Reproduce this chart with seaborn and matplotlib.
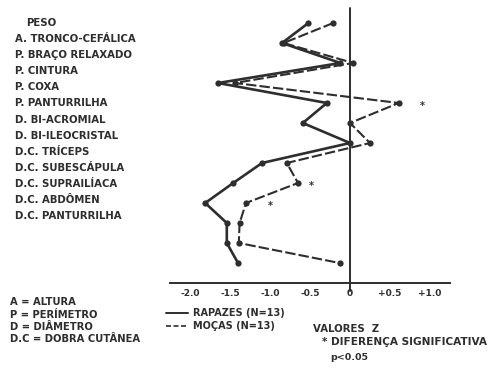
import matplotlib
matplotlib.use("Agg")
import matplotlib.pyplot as plt
import pandas as pd
import seaborn as sns

# Perfil antropometrico (valores Z) - rapazes vs mocas
variaveis = ["PESO", "A. TRONCO-CEFÁLICA", "P. BRAÇO RELAXADO", "P. CINTURA",
             "P. COXA", "P. PANTURRILHA", "D. BI-ACROMIAL", "D. BI-ILEOCRISTAL",
             "D.C. TRÍCEPS", "D.C. SUBESCÁPULA", "D.C. SUPRAILÍACA",
             "D.C. ABDÔMEN", "D.C. PANTURRILHA"]
rapazes = [-0.52, -0.85, -0.12, -1.65, -0.29, -0.59, 0.00, -1.10, -1.46, -1.81, -1.54, -1.54, -1.40]
mocas = [-0.21, -0.83, 0.04, -1.44, 0.61, 0.00, 0.25, -0.79, -0.65, -1.30, -1.38, -1.39, -0.13]
sig_rows = [4, 8, 9]
sig_x = [0.90, -0.48, -0.99]
xticks = [-2.0, -1.5, -1.0, -0.5, 0.0, 0.5, 1.0]
xtick_labels = ["-2.0", "-1.5", "-1.0", "-0.5", "0", "+0.5", "+1.0"]

ink = "#2e2e2e"
sns.set_style("white")
plt.rcParams["font.family"] = ["DejaVu Sans"]

W, H = 502, 368
fig = plt.figure(figsize=(W / 100, H / 100), dpi=100)
# axes placed in pixel terms: x from 170 to 450, y from 8 to 283
ax = fig.add_axes([170 / W, (H - 283) / H, 280 / W, 275 / H])

rows = list(range(len(variaveis)))
df_r = pd.DataFrame({"z": rapazes, "row": rows})
df_m = pd.DataFrame({"z": mocas, "row": rows})

sns.lineplot(data=df_r, x="z", y="row", sort=False, estimator=None, ax=ax,
             color=ink, lw=1.9, marker="o", markersize=4.5, markeredgewidth=0)
sns.lineplot(data=df_m, x="z", y="row", sort=False, estimator=None, ax=ax,
             color=ink, lw=1.5, linestyle=(0, (5, 1.5)), marker="o",
             markersize=4.5, markeredgewidth=0)

for r, sx in zip(sig_rows, sig_x):
    ax.text(sx, r + 0.15, "*", ha="center", va="center", fontsize=7,
            fontweight="bold", color=ink)

ax.set_xlim(-2.25, 1.25)
ax.set_ylim(13, -0.75)
ax.axvline(0, ymin=-0.028, ymax=1, color=ink, lw=1.4, clip_on=False)

for s in ["top", "right", "left"]:
    ax.spines[s].set_visible(False)
ax.spines["bottom"].set_color(ink)
ax.spines["bottom"].set_linewidth(1.4)
ax.set_yticks([])
ax.set_xticks(xticks)
ax.set_xticklabels(xtick_labels, fontsize=6.5, fontweight="bold", color=ink)
ax.tick_params(axis="x", direction="in", length=3, width=1, color=ink, pad=4)
ax.set_xlabel("")
ax.set_ylabel("")

# labels on the left (as in the scanned original, not aligned to the rows)
def px(x, y):
    return x / W, 1 - y / H

for i, nome in enumerate(variaveis):
    x0 = 26 if i == 0 else 15
    fig.text(*px(x0, 23 + i * 16.1), nome, fontsize=7.3, fontweight="bold",
             color=ink, va="center", ha="left")

abrev = ["A = ALTURA", "P = PERÍMETRO", "D = DIÂMETRO", "D.C = DOBRA CUTÂNEA"]
for i, t in enumerate(abrev):
    fig.text(*px(10, 302 + i * 12.5), t, fontsize=7.2, fontweight="bold",
             color=ink, va="center", ha="left")

# legend drawn by hand
leg = fig.add_axes([0, 0, 1, 1], facecolor="none")
leg.set_xlim(0, W)
leg.set_ylim(H, 0)
leg.axis("off")
leg.plot([166, 188], [313, 313], color=ink, lw=1.4)
leg.plot([166, 188], [326, 326], color=ink, lw=1.2, linestyle=(0, (3, 1.5)))
leg.text(193, 313, "RAPAZES (N=13)", fontsize=7, fontweight="bold", color=ink, va="center")
leg.text(193, 326, "MOÇAS (N=13)", fontsize=7, fontweight="bold", color=ink, va="center")

leg.text(313, 329, "VALORES  Z", fontsize=7.3, fontweight="bold", color=ink, va="center")
leg.text(322, 342, "* DIFERENÇA SIGNIFICATIVA", fontsize=7.6, fontweight="bold", color=ink, va="center")
leg.text(330, 357, "p<0.05", fontsize=6.8, fontweight="bold", color=ink, va="center")

fig.savefig("out.png", dpi=100, facecolor="white")
